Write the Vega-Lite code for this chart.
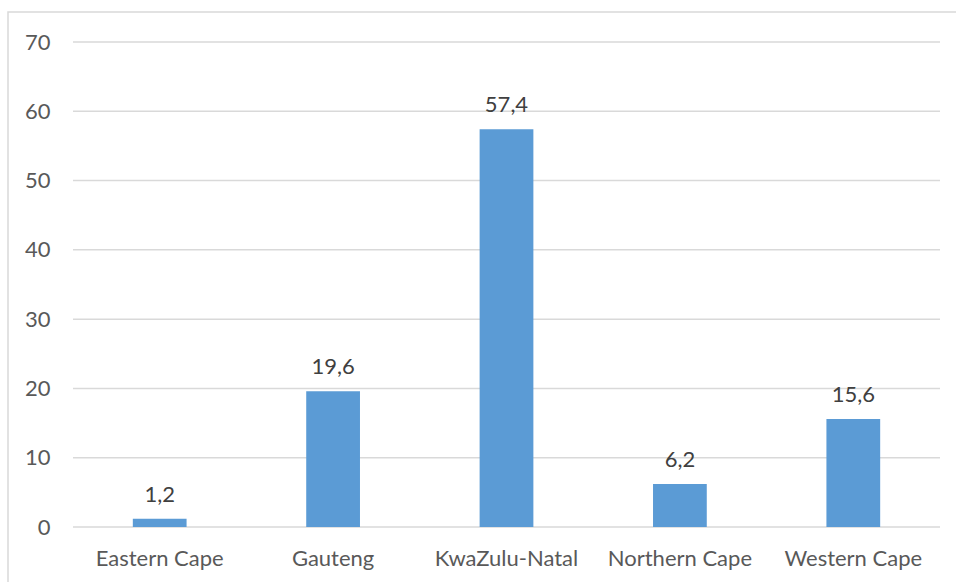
{
  "$schema": "https://vega.github.io/schema/vega-lite/v6.json",
  "width": 960,
  "height": 580,
  "autosize": "none",
  "padding": {"left": 8, "top": 12, "right": 0, "bottom": 0},
  "background": "#ffffff",
  "config": {
    "view": {"stroke": "#d9d9d9", "strokeWidth": 1.5},
    "font": "Lato",
    "locale": {"number": {"decimal": ",", "thousands": " ", "grouping": [3], "currency": ["", ""]}},
    "axis": {"labelFont": "Lato", "labelFontSize": 22, "labelColor": "#595959", "domain": false, "ticks": false, "grid": false}
  },
  "layer": [
    {
      "data": {"values": [{"v": 0}, {"v": 10}, {"v": 20}, {"v": 30}, {"v": 40}, {"v": 50}, {"v": 60}, {"v": 70}]},
      "mark": {"type": "rule", "color": "#d9d9d9", "strokeWidth": 1.5},
      "encoding": {
        "y": {"field": "v", "type": "quantitative", "scale": {"domain": [0, 70], "range": [515, 30]}, "axis": {"values": [0, 10, 20, 30, 40, 50, 60, 70], "offset": -42, "labelPadding": 0, "title": null}},
        "x": {"datum": 0, "type": "quantitative", "scale": {"domain": [0, 1], "range": [65, 932]}, "axis": null},
        "x2": {"datum": 1}
      }
    },
    {
      "data": {"values": [
        {"province": "Eastern Cape", "pct": 1.2},
        {"province": "Gauteng", "pct": 19.6},
        {"province": "KwaZulu-Natal", "pct": 57.4},
        {"province": "Northern Cape", "pct": 6.2},
        {"province": "Western Cape", "pct": 15.6}
      ]},
      "encoding": {
        "x": {"field": "province", "type": "nominal", "sort": null,
              "scale": {"range": [65, 932], "paddingInner": 0.69, "paddingOuter": 0.345},
              "axis": {"labelAngle": 0, "offset": -65, "labelPadding": 21, "title": null}},
        "y": {"field": "pct", "type": "quantitative"}
      },
      "layer": [
        {"mark": {"type": "bar", "color": "#5b9bd5"}},
        {"mark": {"type": "text", "baseline": "alphabetic", "dy": -17, "fontSize": 22, "font": "Lato", "color": "#404040"},
         "encoding": {"text": {"field": "pct", "type": "quantitative", "format": ".1f"}}}
      ]
    }
  ],
  "resolve": {"scale": {"x": "independent"}}
}
